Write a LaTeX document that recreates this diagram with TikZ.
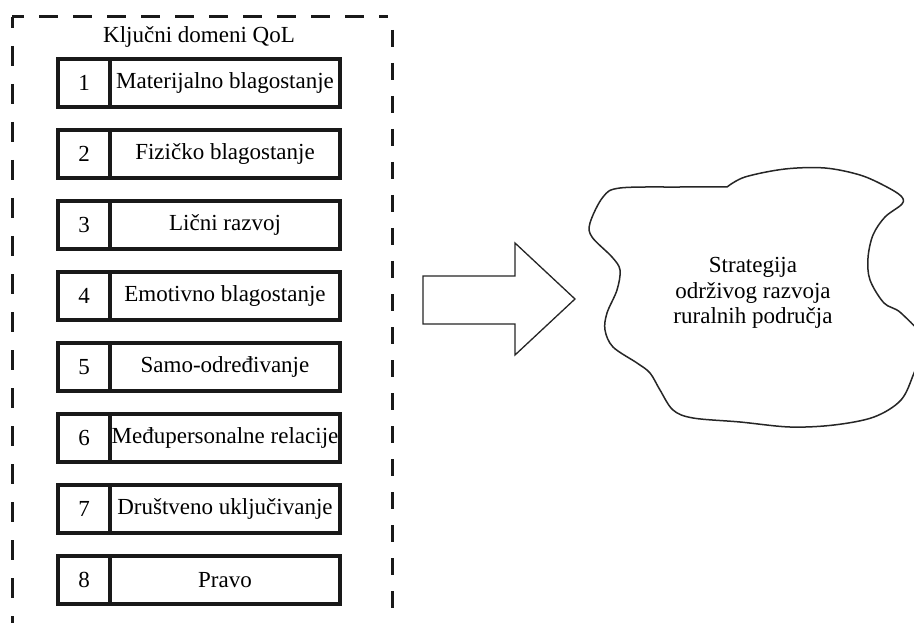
\documentclass[tikz,border=0pt]{standalone}
\usepackage{fontspec}
\setmainfont{Liberation Serif}
\begin{document}
\begin{tikzpicture}[x=1pt,y=-1pt,
  every node/.style={font=\fontsize{23}{25.5}\selectfont, text=black},
  numbox/.style={draw=black!90, line width=3.2pt, minimum width=52pt, minimum height=48pt, inner sep=0pt},
  labbox/.style={draw=black!90, line width=3.2pt, minimum width=230pt, minimum height=48pt, inner sep=0pt},
  frame/.style={draw=black!90, line width=3pt},
  bigarrow/.style={draw=black!85, line width=1.3pt, fill=white},
  cloudline/.style={draw=black!85, line width=1.5pt}]
\useasboundingbox (0,0) rectangle (914,623);
\clip (0,0) rectangle (914,623);
\fill[white] (0,0) rectangle (914,623);
% dashed frame
\coordinate (tl) at (12,17);
\coordinate (tr) at (392,17);
\coordinate (bl) at (12,640);
\coordinate (br) at (392,640);
\draw[frame, dash pattern=on 19pt off 15pt, dash phase=7pt] (tl) -- ([xshift=-4pt]tr);
\draw[frame, dash pattern=on 20pt off 18pt, dash phase=9pt] (tl) -- (bl);
\draw[frame, dash pattern=on 17pt off 16pt] ([yshift=-13pt]tr) -- (br);
\node (title) at (199,37) {Ključni domeni QoL};
% domains
\foreach \i/\lab in {1/Materijalno blagostanje,2/Fizičko blagostanje,3/Lični razvoj,4/Emotivno blagostanje,5/Samo-određivanje,6/Međupersonalne relacije,7/Društveno uključivanje,8/Pravo}{
  \node[numbox] (n\i) at (84,{83+71*(\i-1)}) {\i};
  \node[labbox] (l\i) at (225,{83+71*(\i-1)}) {\lab};
}
% big arrow
\draw[bigarrow] (423,276) -- (515,276) -- (515,243) -- (575,299) -- (515,355) -- (515,324) -- (423,324) -- cycle;
% cloud
\draw[cloudline] plot[smooth, tension=0.55] coordinates {
 (727,187) (745,177) (785,169) (825,168) (860,175) (885,186) (901,196) (902,204)
 (885,217) (873,235) (868,258) (870,280) (884,303) (901,313) (925,342) (914,373)
 (901,400) (874,417) (834,425) (790,427) (740,422) (693,418) (673,410) (660,390)
 (650,373) (637,363) (613,347) (605,330) (607,313) (617,290) (620,270) (612,257)
 (592,237) (590,223) (603,197) (620,188) (680,187) (727,187)};
\node[align=center] (strat) at (753,293) {Strategija\\održivog razvoja\\ruralnih područja};
\end{tikzpicture}
\end{document}
